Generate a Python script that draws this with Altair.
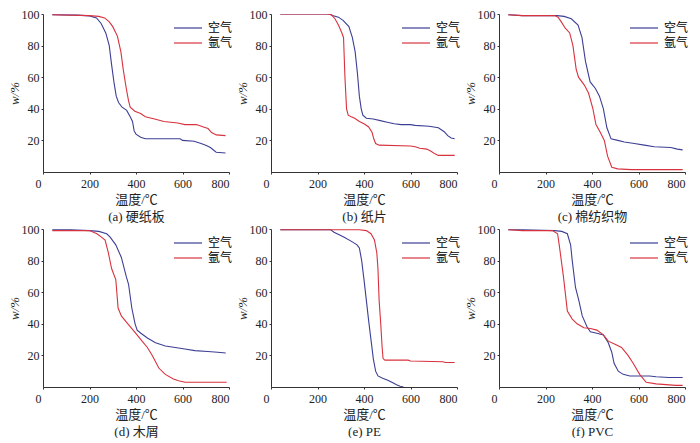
import altair as alt
import pandas as pd

BLUE = "#3d3f94"
RED = "#d8323e"
FONT = "'Liberation Serif', 'Noto Sans CJK SC', serif"

gases = ["空气", "氩气"]
captions = ["(a) 硬纸板", "(b) 纸片", "(c) 棉纺织物", "(d) 木屑", "(e) PE", "(f) PVC"]

# (a) 硬纸板
a_air_T = [40, 150, 200, 230, 250, 270, 285, 295, 305, 315, 325, 340, 360, 375, 385, 392, 400, 420, 440, 590, 600, 650, 680, 700, 720, 745, 785]
a_air_w = [99.5, 99.3, 98.8, 97.5, 94, 88, 80, 68, 57, 48, 44, 41, 39, 35, 32, 26, 24, 22, 21, 21, 20, 19.5, 18, 17, 15.5, 12.5, 12]
a_ar_T = [40, 200, 240, 265, 285, 300, 320, 335, 345, 358, 368, 375, 395, 420, 440, 480, 520, 580, 610, 660, 690, 710, 725, 745, 785]
a_ar_w = [99.5, 99, 98.5, 97.5, 95, 92, 86, 76, 65, 53, 45, 41, 38.5, 37, 35, 33.5, 32, 31, 30, 30, 28.5, 27.5, 25, 23.5, 23]

# (b) 纸片
b_air_T = [40, 250, 265, 290, 310, 335, 350, 362, 372, 380, 388, 395, 410, 440, 470, 500, 530, 560, 600, 620, 680, 700, 720, 745, 760, 775, 790]
b_air_w = [100, 100, 99, 98, 96, 92, 85, 76, 62, 48, 40, 36, 34, 33.5, 32.5, 31.5, 30.5, 30, 30, 29.5, 29, 28.5, 28, 25.5, 23, 21.5, 21]
b_ar_T = [40, 240, 260, 275, 290, 305, 312, 318, 325, 332, 345, 360, 380, 400, 420, 435, 442, 450, 465, 600, 620, 640, 670, 690, 705, 720, 790]
b_ar_w = [100, 100, 99.5, 97, 93, 88, 85, 60, 40, 36, 35, 34, 32, 30.5, 28.5, 25, 21, 18, 17, 16.5, 16, 15, 14.5, 13, 11.5, 10.5, 10.5]

# (c) 棉纺织物
c_air_T = [40, 100, 250, 280, 311, 340, 357, 372, 392, 414, 432, 449, 464, 482, 511, 539, 582, 625, 668, 739, 767, 790]
c_air_w = [99.5, 99, 99, 98.5, 97, 93, 85, 70, 57, 53, 48, 40, 28, 21, 20, 19, 18, 17, 16, 15.5, 14.5, 14]
c_ar_T = [40, 100, 240, 254, 268, 285, 304, 318, 332, 342, 367, 385, 404, 417, 436, 453, 467, 485, 511, 568, 790]
c_ar_w = [99.5, 99, 99, 98, 95, 91, 88, 80, 65, 60, 55, 50, 40, 30, 25, 20, 10, 3, 2, 1.5, 1.5]

# (d) 木屑
d_air_T = [40, 120, 200, 240, 274, 288, 313, 337, 358, 368, 382, 396, 405, 421, 449, 484, 526, 569, 610, 653, 709, 751, 786]
d_air_w = [99.5, 99.5, 99, 98.5, 97, 95, 90, 82, 70, 65, 50, 40, 36, 34, 31, 28, 26, 25, 24, 23, 22.5, 22, 21.5]
d_ar_T = [40, 200, 232, 250, 267, 281, 295, 313, 323, 337, 365, 393, 421, 449, 470, 498, 526, 561, 583, 611, 790]
d_ar_w = [99, 99, 97, 95, 93, 85, 75, 68, 50, 45, 40, 35, 30, 25, 20, 12, 8, 5, 4, 3, 3]

# (e) PE
e_air_T = [40, 257, 271, 313, 348, 370, 380, 390, 400, 410, 420, 430, 440, 450, 460, 480, 500, 520, 540, 555, 570]
e_air_w = [99.5, 99.5, 98, 95, 92, 90, 88, 80, 68, 55, 42, 30, 18, 10, 7, 5.5, 4.5, 3, 1.5, 0.5, 0]
e_ar_T = [40, 380, 410, 430, 445, 455, 460, 465, 472, 478, 482, 490, 590, 600, 740, 750, 790]
e_ar_w = [99.5, 99.5, 99, 97, 93, 85, 75, 55, 40, 25, 18, 17, 17, 16.5, 16, 15.5, 15.5]

# (f) PVC
f_air_T = [40, 100, 240, 270, 294, 308, 315, 329, 343, 358, 379, 393, 421, 449, 470, 485, 495, 513, 534, 563, 647, 676, 731, 790]
f_air_w = [99.5, 99.5, 99, 98.5, 97, 90, 80, 63, 55, 45, 38, 35, 34, 33, 28, 22, 15, 10, 8, 7, 7, 6.5, 6, 6]
f_ar_T = [40, 100, 230, 252, 259, 277, 294, 315, 336, 365, 393, 421, 449, 470, 499, 527, 555, 577, 605, 633, 676, 718, 760, 790]
f_ar_w = [99.5, 99, 99, 97, 90, 70, 48, 43, 40, 37.5, 37, 36, 33, 29, 27, 25, 20, 15, 8, 3, 2, 1.5, 1, 1]

series = [
    (a_air_T, a_air_w, a_ar_T, a_ar_w),
    (b_air_T, b_air_w, b_ar_T, b_ar_w),
    (c_air_T, c_air_w, c_ar_T, c_ar_w),
    (d_air_T, d_air_w, d_ar_T, d_ar_w),
    (e_air_T, e_air_w, e_ar_T, e_ar_w),
    (f_air_T, f_air_w, f_ar_T, f_ar_w),
]

W, H = 186, 158

def panel(i):
    airT, airW, arT, arW = series[i]
    rows = []
    for k, (t, w) in enumerate(zip(airT, airW)):
        rows.append({"T": t, "w": w, "gas": gases[0], "o": k})
    for k, (t, w) in enumerate(zip(arT, arW)):
        rows.append({"T": t, "w": w, "gas": gases[1], "o": k})
    df = pd.DataFrame(rows)
    return alt.Chart(df).mark_line(strokeWidth=1.1, clip=True).encode(
        x=alt.X("T:Q", scale=alt.Scale(domain=[0, 800], nice=False),
                axis=alt.Axis(values=[0, 200, 400, 600, 800], title=["温度/℃", captions[i]],
                              labelPadding=4, titlePadding=4,
                              labelOffset={"condition": {"test": "datum.value === 0", "value": -8}, "value": 0})),
        y=alt.Y("w:Q", scale=alt.Scale(domain=[0, 100], nice=False),
                axis=alt.Axis(values=[20, 40, 60, 80, 100], title="w/%", titleFontStyle="italic",
                              labelPadding=2, titlePadding=0)),
        color=alt.Color("gas:N", scale=alt.Scale(domain=gases, range=[BLUE, RED]),
                        legend=alt.Legend(title=None, orient="none", legendX=139, legendY=8,
                                          symbolType="M-4,0L4,0", symbolSize=49,
                                          symbolStrokeWidth=1.2, labelOffset=14, padding=0,
                                          labelFontSize=12, labelFont=FONT, rowPadding=3)),
        order="o:Q",
    ).properties(width=W, height=H)

row1 = alt.hconcat(panel(0), panel(1), panel(2), spacing=3).resolve_legend(color="independent")
row2 = alt.hconcat(panel(3), panel(4), panel(5), spacing=3).resolve_legend(color="independent")
chart = alt.vconcat(row1, row2, spacing=0).resolve_legend(color="independent").properties(
    padding={"left": 0, "top": 0, "right": 0, "bottom": 0}
).configure_view(stroke=None).configure_axis(
    grid=False, domainColor="#333", tickColor="#333", tickSize=2, domainWidth=1,
    labelFont=FONT, labelFontSize=12, labelColor="#222",
    titleFont=FONT, titleFontSize=13, titleFontWeight="normal", titleColor="#222",
    titleLineHeight=17,
)

chart.save("out.html", embed_options={"renderer": "svg", "actions": False})
